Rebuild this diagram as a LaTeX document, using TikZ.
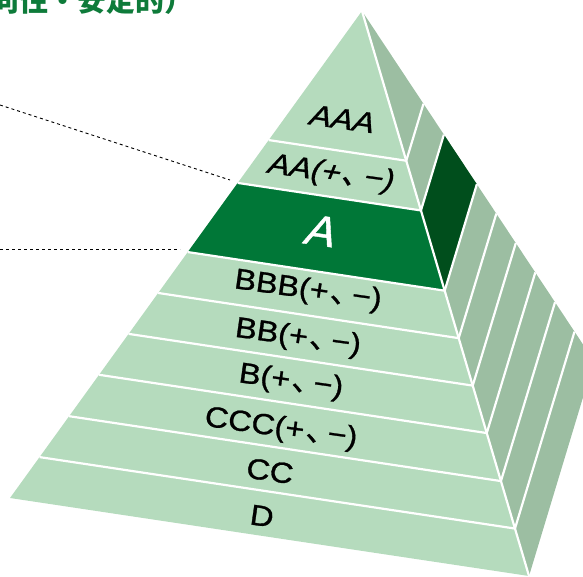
\documentclass[tikz,border=0pt]{standalone}
\usepackage{fontspec}
\setmainfont{Liberation Sans}
\newfontfamily\labfont[FakeBold=0.9]{Liberation Sans}
\newfontfamily\jp{Noto Sans CJK JP}
\newfontfamily\jplab[FakeBold=0.9]{Noto Sans CJK JP}
\usetikzlibrary{calc}
\definecolor{frontgreen}{HTML}{B5DBBD}
\definecolor{sidegreen}{HTML}{9CBEA2}
\definecolor{afront}{HTML}{007737}
\definecolor{aside}{HTML}{004E1C}
\definecolor{titlegreen}{HTML}{0E7B3A}
\newcommand{\jcomma}{{\jplab\kern0.05em 、\kern-0.32em}}
\begin{document}
\begin{tikzpicture}[x=1pt,y=-1pt,
  divider/.style={draw=white,line width=2.2pt,line join=round},
  leader/.style={draw=black,line width=0.9pt,dash pattern=on 3pt off 3pt},
  lab/.style={inner sep=0pt,font=\fontsize{29}{29}\selectfont\labfont,rotate=-8,xscale=1.12},
  labit/.style={lab,xslant=0.22},
  biglab/.style={inner sep=0pt,text=white,font=\fontsize{43}{43}\selectfont\labfont,rotate=-8,xslant=0.22,xscale=1.05},
  titletext/.style={inner sep=0pt,anchor=base west,text=titlegreen,font=\fontsize{29}{29}\selectfont\jp\bfseries}]
\useasboundingbox (0,0) rectangle (583,576);
% corners of the pyramid
\coordinate (P) at (362,11);
\coordinate (L) at (10,498);
\coordinate (R) at (529,576);
\coordinate (B) at (594,361);
% faces
\fill[frontgreen] (P) -- (L) -- (R) -- cycle;
\fill[sidegreen] (P) -- (R) -- (B) -- cycle;
% highlighted layer A
\fill[afront] ($(P)!0.353!(L)$) -- ($(P)!0.353!(R)$) -- ($(P)!0.495!(R)$) -- ($(P)!0.495!(L)$) -- cycle;
\fill[aside] ($(P)!0.353!(R)$) -- ($(P)!0.353!(B)$) -- ($(P)!0.495!(B)$) -- ($(P)!0.495!(R)$) -- cycle;
% dividers
\foreach \t in {0.265,0.353,0.495,0.579,0.663,0.747,0.832,0.916}{
  \draw[divider] ($(P)!\t!(L)$) -- ($(P)!\t!(R)$) -- ($(P)!\t!(B)$);
}
\draw[divider] (P) -- (R);
% labels
\node[labit] (aaa) at (343,119) {AAA};
\node[labit] (aa) at (331,174) {AA(+\jcomma−)};
\node[biglab] (a) at (322,231) {A};
\node[lab] (bbb) at (308,291) {BBB(+\jcomma−)};
\node[lab] (bb) at (298,338) {BB(+\jcomma−)};
\node[lab] (b) at (291,382) {B(+\jcomma−)};
\node[lab] (ccc) at (281,429) {CCC(+\jcomma−)};
\node[lab] (cc) at (270,471) {CC};
\node[lab] (d) at (262,516) {D};
% leader lines
\coordinate (l1s) at (0,105);
\coordinate (l1e) at (230,180);
\coordinate (l2s) at (0,249);
\coordinate (l2e) at (180,249);
\draw[leader] (l1s) -- (l1e);
\draw[leader] (l2s) -- (l2e);
% cropped title
\node[titletext] (title) at (-10,11) {向性・安定的）};
\end{tikzpicture}
\end{document}
